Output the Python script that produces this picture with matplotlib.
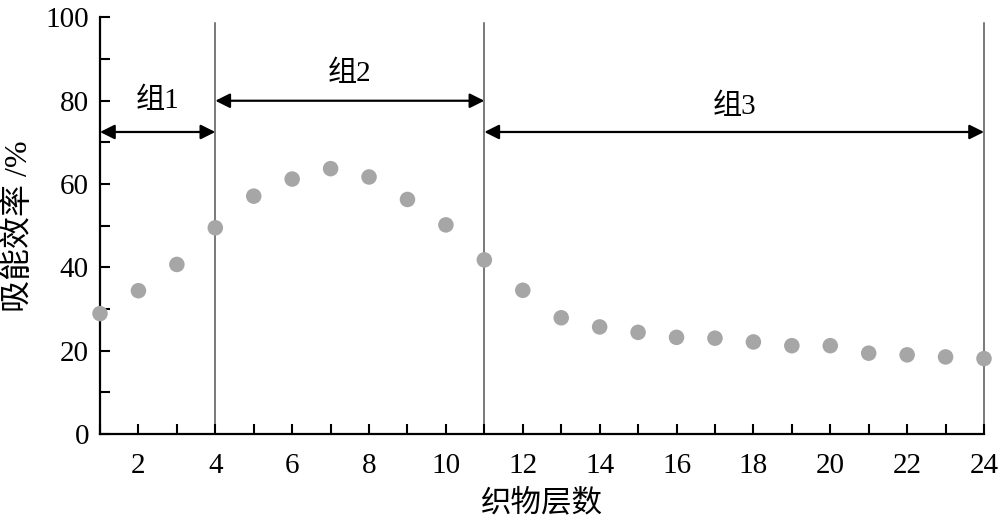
import numpy as np
import matplotlib
matplotlib.use('Agg')
import matplotlib.pyplot as plt

plt.rcParams['font.family'] = ['Liberation Serif', 'Noto Sans CJK SC']

# === 数据 ===
layers = list(range(1, 25))
efficiency = [28.9, 34.4, 40.7, 49.5, 57.1, 61.2, 63.7, 61.7, 56.3, 50.2, 41.8, 34.5,
              27.9, 25.7, 24.4, 23.2, 23.0, 22.1, 21.2, 21.2, 19.4, 19.0, 18.5, 18.1]
boundaries = [4, 11, 24]
groups = ['组1', '组2', '组3']
group_spans = [(1, 4), (4, 11), (11, 24)]
arrow_y = [72.5, 80, 72.5]
label_y = [80, 86.5, 78.5]

# === 作图 ===
fig = plt.figure(figsize=(10, 5.22), dpi=100)
ax = fig.add_axes([0.1, 0.1686, 0.884, 0.798])

for b in boundaries:
    ax.plot([b, b], [0, 98.6], color='#555555', lw=1.1, zorder=1, clip_on=False)

ax.scatter(layers, efficiency, s=125, color='#a6a6a6', edgecolors='none', zorder=3, clip_on=False)

for (x0, x1), yy, ly, name in zip(group_spans, arrow_y, label_y, groups):
    ax.annotate('', xy=(x0, yy), xytext=(x1, yy),
                arrowprops=dict(arrowstyle='<|-|>', color='black', lw=1.6,
                                mutation_scale=22, shrinkA=0, shrinkB=0))
    ax.text((x0 + x1) / 2, ly, name, ha='center', va='center', fontsize=21)

ax.set_xlim(1, 24)
ax.set_ylim(0, 100)
ax.set_xticks(range(1, 25))
ax.set_xticklabels([str(i) if i % 2 == 0 else '' for i in range(1, 25)])
ax.set_yticks(range(0, 101, 10))
ax.set_yticklabels([str(i) if i % 20 == 0 else '' for i in range(0, 101, 10)])
ax.tick_params(direction='in', length=7, width=1.5, labelsize=21, pad=8, color='black')
ax.tick_params(axis='x', pad=14)

for s in ['top', 'right']:
    ax.spines[s].set_visible(False)
for s in ['left', 'bottom']:
    ax.spines[s].set_linewidth(1.6)

ax.set_xlabel('织物层数', fontsize=22, labelpad=7)
ax.set_ylabel('吸能效率 /%', fontsize=23, labelpad=8)

plt.savefig('out.png', dpi=100)
